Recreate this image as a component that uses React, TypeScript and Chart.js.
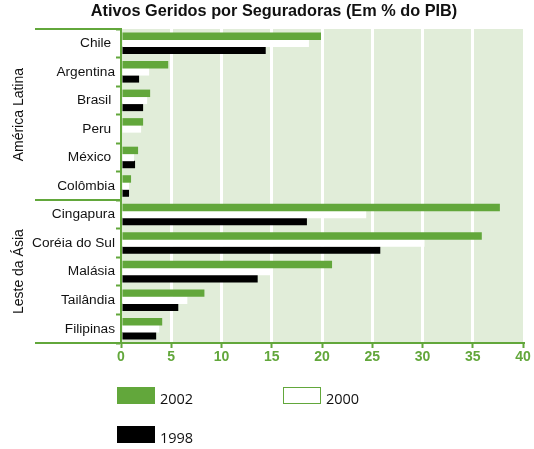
import React, { useEffect, useRef } from "react";
import { Chart, registerables } from "chart.js";

Chart.register(...registerables);

const TITLE = "Ativos Geridos por Seguradoras (Em % do PIB)";
const NB = "\u00a0";
const categories = [
  "Chile" + NB,
  "Argentina",
  "Brasil" + NB,
  "Peru" + NB,
  "México" + NB,
  "Colômbia",
  "Cingapura",
  "Coréia do Sul",
  "Malásia",
  "Tailândia",
  "Filipinas",
];
const groups = ["América Latina", "Leste da Ásia"];
const groupSizes = [6, 5];
const seriesLabels = ["2002", "2000", "1998"];
const values2002 = [19.9, 4.7, 2.9, 2.2, 1.7, 1.0, 37.7, 35.9, 21.0, 8.3, 4.1];
const values2000 = [18.7, 2.8, 2.6, 2.0, 1.3, 0.8, 24.4, 30.2, 14.9, 6.6, 3.8];
const values1998 = [14.4, 1.8, 2.2, null, 1.4, 0.8, 18.5, 25.8, 13.6, 5.7, 3.5];
const xTicks = [0, 5, 10, 15, 20, 25, 30, 35, 40];

const GREEN = "#62a73b";
const BG = "#e1edd9";
const TEXT = "#111111";
const SANS = "'Liberation Sans', Arial, sans-serif";

const decorPlugin = {
  id: "decor",
  beforeDraw(chart: any) {
    const { ctx, chartArea } = chart;
    ctx.save();
    ctx.fillStyle = "#ffffff";
    ctx.fillRect(0, 0, chart.width, chart.height);
    ctx.fillStyle = BG;
    ctx.fillRect(chartArea.left, chartArea.top, chartArea.right - chartArea.left, chartArea.bottom - chartArea.top);
    ctx.restore();
  },
  afterDraw(chart: any) {
    const { ctx, chartArea } = chart;
    const y = chart.scales.y;
    const x0 = 35;
    ctx.save();
    // title
    ctx.fillStyle = TEXT;
    ctx.font = `bold 16.3px ${SANS}`;
    ctx.textAlign = "center";
    ctx.textBaseline = "middle";
    ctx.fillText(TITLE, 274, 12);

    // group lines
    ctx.strokeStyle = GREEN;
    ctx.lineWidth = 2;
    const bounds: number[] = [chartArea.top];
    let idx = 0;
    groupSizes.forEach((n) => {
      idx += n;
      if (idx < categories.length) {
        bounds.push((y.getPixelForValue(idx - 1) + y.getPixelForValue(idx)) / 2);
      } else {
        bounds.push(chartArea.bottom);
      }
    });
    bounds.forEach((b) => {
      ctx.beginPath();
      ctx.moveTo(x0, Math.round(b));
      ctx.lineTo(chartArea.left, Math.round(b));
      ctx.stroke();
    });

    // group labels
    ctx.fillStyle = TEXT;
    ctx.font = `14px ${SANS}`;
    ctx.textAlign = "center";
    ctx.textBaseline = "middle";
    groups.forEach((g, i) => {
      const cy = (bounds[i] + bounds[i + 1]) / 2;
      ctx.save();
      ctx.translate(19, cy);
      ctx.rotate(-Math.PI / 2);
      ctx.fillText(g, 0, 0);
      ctx.restore();
    });

    // legend
    const items = chart.data.datasets.map((d: any) => ({
      label: d.label,
      fill: d.backgroundColor,
    }));
    const positions = [
      [117, 387],
      [283, 387],
      [117, 426],
    ];
    ctx.font = `14.5px 'Open Sans', ${SANS}`;
    ctx.textAlign = "left";
    ctx.textBaseline = "alphabetic";
    items.forEach((it: any, i: number) => {
      const [lx, ly] = positions[i];
      ctx.fillStyle = it.fill;
      ctx.fillRect(lx, ly, 38, 17);
      if (it.fill === "#ffffff") {
        ctx.strokeStyle = GREEN;
        ctx.lineWidth = 1;
        ctx.strokeRect(lx + 0.5, ly + 0.5, 37, 16);
      }
      ctx.fillStyle = TEXT;
      ctx.fillText(it.label, lx + 43, ly + 17);
    });
    ctx.restore();
  },
};

export default function App() {
  const canvasRef = useRef<HTMLCanvasElement | null>(null);

  useEffect(() => {
    const canvas = canvasRef.current;
    if (!canvas) return;
    const chart = new Chart(canvas, {
      type: "bar",
      data: {
        labels: categories,
        datasets: [
          { label: seriesLabels[0], data: values2002, backgroundColor: GREEN },
          { label: seriesLabels[1], data: values2000, backgroundColor: "#ffffff" },
          { label: seriesLabels[2], data: values1998 as any, backgroundColor: "#000000" },
        ],
      },
      options: {
        indexAxis: "y",
        animation: false,
        responsive: false,
        events: [],
        layout: { padding: { top: 29, right: 11, left: 0, bottom: 0 } },
        datasets: {
          bar: { categoryPercentage: 0.74, barPercentage: 1.06, borderWidth: 0 },
        },
        plugins: {
          legend: { display: false },
          title: { display: false },
          tooltip: { enabled: false },
        },
        scales: {
          x: {
            type: "linear",
            min: xTicks[0],
            max: xTicks[xTicks.length - 1],
            afterBuildTicks: (scale: any) => {
              scale.ticks = xTicks.map((v) => ({ value: v }));
            },
            afterFit: (scale: any) => {
              scale.height = 106;
            },
            border: { display: true, color: GREEN, width: 2 },
            grid: {
              color: (c: any) =>
                c.tick && (c.tick.value === xTicks[0] || c.tick.value === xTicks[xTicks.length - 1])
                  ? "rgba(0,0,0,0)"
                  : "#ffffff",
              lineWidth: 3,
              tickColor: GREEN,
              tickLength: 5,
              tickWidth: 2,
            } as any,
            ticks: {
              color: GREEN,
              font: { family: SANS, size: 14, weight: "bold" },
              padding: 1,
            },
          },
          y: {
            type: "category",
            afterFit: (scale: any) => {
              scale.width = 121;
            },
            border: { display: true, color: GREEN, width: 2 },
            grid: {
              offset: true,
              drawOnChartArea: false,
              tickColor: GREEN,
              tickLength: 5,
              tickWidth: 2,
            } as any,
            ticks: {
              color: TEXT,
              font: { family: SANS, size: 13.7 },
              padding: 1,
            },
          },
        },
      },
      plugins: [decorPlugin],
    });
    return () => chart.destroy();
  }, []);

  return (
    <div style={{ position: "fixed", left: 0, top: 0, width: 534, height: 449 }}>
      <canvas ref={canvasRef} width={534} height={449} style={{ width: 534, height: 449 }} />
    </div>
  );
}
